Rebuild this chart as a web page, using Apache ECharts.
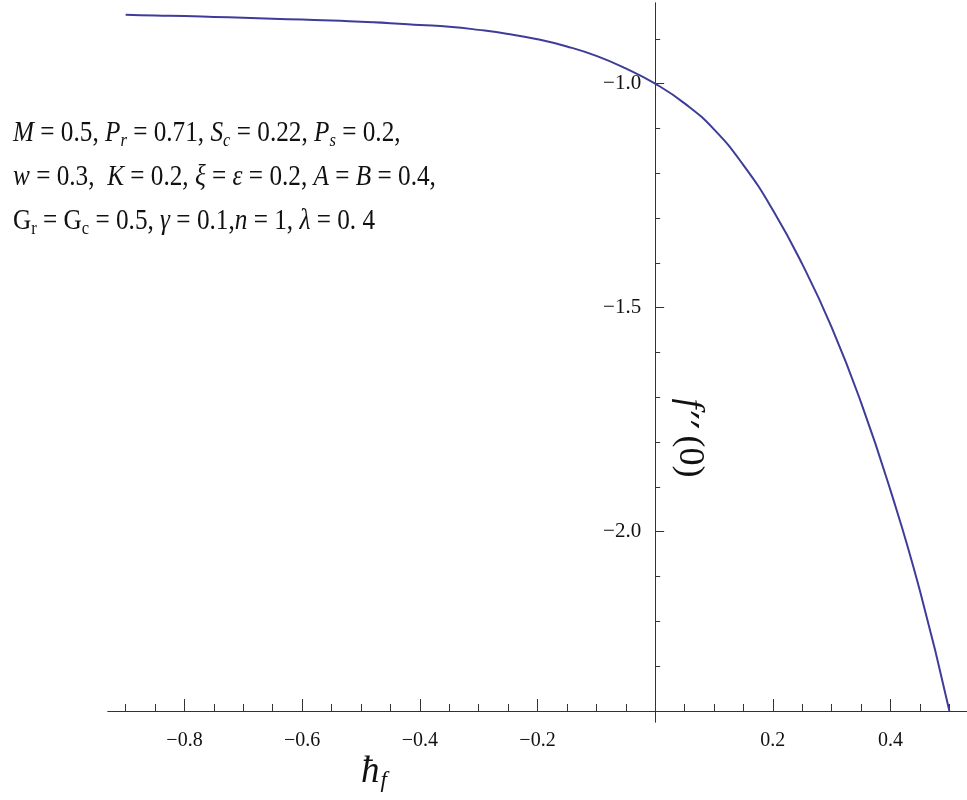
<!DOCTYPE html>
<html>
<head>
<meta charset="utf-8">
<script src="https://cdn.jsdelivr.net/npm/echarts@6/dist/echarts.min.js"></script>
<style>
html, body { margin: 0; padding: 0; background: #fff; }
#main { width: 967px; height: 800px; }
</style>
</head>
<body>
<div id="main"></div>
<script>
// values
var hfValues = [-0.9, -0.85, -0.8, -0.75, -0.7, -0.65, -0.6, -0.55, -0.5, -0.45,
    -0.4, -0.35, -0.3, -0.25, -0.2, -0.15, -0.1, -0.05, 0, 0.05,
    0.1, 0.15, 0.2, 0.25, 0.3, 0.35, 0.4, 0.45, 0.5];
var fppValues = [-0.846, -0.848, -0.849, -0.851, -0.853, -0.855, -0.857, -0.859, -0.862, -0.865,
    -0.869, -0.873, -0.880, -0.889, -0.901, -0.917, -0.938, -0.966, -1.000, -1.044,
    -1.102, -1.182, -1.282, -1.403, -1.544, -1.712, -1.908, -2.132, -2.400];

var xMajorTicks = [-0.8, -0.6, -0.4, -0.2, 0.2, 0.4];
var xMinorTicks = [-0.9, -0.85, -0.75, -0.7, -0.65, -0.55, -0.5, -0.45, -0.35, -0.3, -0.25,
    -0.15, -0.1, -0.05, 0.05, 0.1, 0.15, 0.25, 0.3, 0.35, 0.45, 0.5];
var yMajorTicks = [-1.0, -1.5, -2.0];
var yMinorTicks = [-0.9, -1.1, -1.2, -1.3, -1.4, -1.6, -1.7, -1.8, -1.9, -2.1, -2.2, -2.3];

var paramLines = [
    '{v|M} = 0.5, {v|P}{s|r} = 0.71, {v|S}{s|c} = 0.22, {v|P}{s|s} = 0.2,',
    '{v|w} = 0.3,  {v|K} = 0.2, {v|ξ} = {v|ε} = 0.2, {v|A} = {v|B} = 0.4,',
    'G{u|r} = G{u|c} = 0.5, {v|γ} = 0.1,{v|n} = 1, {v|λ} = 0. 4'
];

var serif = 'Liberation Serif';
var axisColor = '#333';
var xMin = -0.93, xMax = 0.53;
var yMin = -2.425, yMax = -0.82;
var gridLeft = 108, gridWidth = 859;
// shift the y axis from the grid edge to x = 0
var yShift = -gridWidth * (0 - xMin) / (xMax - xMin);

function fmt(v) {
    return (v < 0 ? '\u2212' : '') + Math.abs(v).toFixed(1);
}

var data = [];
for (var i = 0; i < hfValues.length; i++) {
    data.push([hfValues[i], fppValues[i]]);
}

var chart = echarts.init(document.getElementById('main'));

var option = {
    animation: false,
    backgroundColor: '#fff',
    grid: { left: gridLeft, width: gridWidth, top: 3, bottom: 78 },
    xAxis: [
        {
            type: 'value', min: xMin, max: xMax, position: 'bottom', offset: -11,
            axisLine: { onZero: false, lineStyle: { color: axisColor, width: 1 } },
            axisTick: { inside: true, length: 12, customValues: xMajorTicks, lineStyle: { color: axisColor } },
            axisLabel: { customValues: xMajorTicks, formatter: fmt, margin: 20, color: '#111', fontFamily: serif, fontSize: 20 },
            splitLine: { show: false }
        },
        {
            type: 'value', min: xMin, max: xMax, position: 'bottom', offset: -11,
            axisLine: { onZero: false, lineStyle: { color: axisColor, width: 1 } },
            axisTick: { inside: true, length: 7, customValues: xMinorTicks, lineStyle: { color: axisColor } },
            axisLabel: { show: false },
            splitLine: { show: false }
        }
    ],
    yAxis: [
        {
            type: 'value', min: yMin, max: yMax, position: 'left', offset: yShift,
            axisLine: { onZero: false, lineStyle: { color: axisColor, width: 1 } },
            axisTick: { inside: true, length: 9, customValues: yMajorTicks, lineStyle: { color: axisColor } },
            axisLabel: { customValues: yMajorTicks, formatter: fmt, margin: 14, color: '#111', fontFamily: serif, fontSize: 21 },
            splitLine: { show: false }
        },
        {
            type: 'value', min: yMin, max: yMax, position: 'left', offset: yShift,
            axisLine: { onZero: false, lineStyle: { color: axisColor, width: 1 } },
            axisTick: { inside: true, length: 5, customValues: yMinorTicks, lineStyle: { color: axisColor } },
            axisLabel: { show: false },
            splitLine: { show: false }
        }
    ],
    graphic: [
        {
            type: 'text', x: 13, y: 111, scaleX: 0.87,
            style: {
                text: paramLines.join('\n'),
                fontFamily: serif, fontSize: 29, lineHeight: 44, fill: '#111',
                rich: {
                    v: { fontFamily: serif, fontSize: 29, fontStyle: 'italic', lineHeight: 44 },
                    s: { fontFamily: serif, fontSize: 19, fontStyle: 'italic', lineHeight: 44, padding: [16, 0, 0, 0] },
                    u: { fontFamily: serif, fontSize: 19, lineHeight: 44, padding: [16, 0, 0, 0] }
                }
            }
        },
        {
            type: 'text', x: 361, y: 752,
            style: {
                text: '{h|ħ}{f|f}',
                rich: {
                    h: { fontFamily: serif, fontSize: 37, fontStyle: 'italic', fill: '#111', lineHeight: 40 },
                    f: { fontFamily: serif, fontSize: 23, fontStyle: 'italic', fill: '#111', lineHeight: 40, padding: [17, 0, 0, 1] }
                }
            }
        },
        {
            type: 'text', x: 689, y: 438, rotation: -Math.PI / 2,
            style: {
                text: '{i|f}{p|\u2032\u2032}{n|(0)}',
                align: 'center', verticalAlign: 'middle',
                rich: {
                    i: { fontFamily: serif, fontSize: 36, fontStyle: 'italic', fill: '#111', padding: [0, 2, 0, 0] },
                    p: { fontFamily: 'DejaVu Sans', fontSize: 42, fill: '#111', padding: [20, 6, 0, 0] },
                    n: { fontFamily: serif, fontSize: 36, fill: '#111' }
                }
            }
        }
    ],
    series: [
        {
            type: 'line',
            xAxisIndex: 0, yAxisIndex: 0,
            data: data,
            smooth: true,
            showSymbol: false,
            lineStyle: { color: '#3d3d99', width: 2 },
            itemStyle: { color: '#3d3d99' }
        }
    ]
};

chart.setOption(option);
</script>
</body>
</html>
